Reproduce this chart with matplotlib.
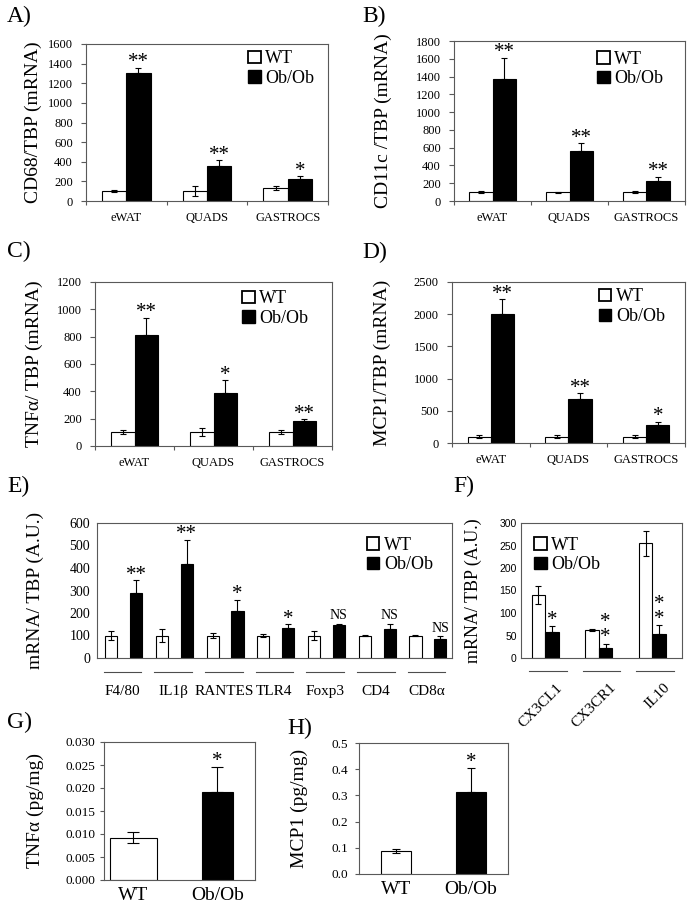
import matplotlib
matplotlib.use("Agg")
import numpy as np
import matplotlib.pyplot as plt
from matplotlib import transforms
from matplotlib.patches import Patch

plt.rcParams['font.family'] = ['Liberation Serif', 'DejaVu Serif']

W, H = 689, 907

# ---- data ----
tissues = ["eWAT", "QUADS", "GASTROCS"]

cd68_wt = [100, 100, 135]
cd68_wt_err = [10, 50, 20]
cd68_ob = [1300, 360, 225]
cd68_ob_err = [60, 55, 25]
cd68_sig = ["**", "**", "*"]

cd11c_wt = [100, 100, 100]
cd11c_wt_err = [15, 5, 10]
cd11c_ob = [1370, 560, 225]
cd11c_ob_err = [240, 90, 45]
cd11c_sig = ["**", "**", "**"]

tnf_wt = [100, 100, 100]
tnf_wt_err = [15, 30, 15]
tnf_ob = [810, 385, 180]
tnf_ob_err = [130, 95, 15]
tnf_sig = ["**", "*", "**"]

mcp1_wt = [100, 100, 100]
mcp1_wt_err = [30, 30, 30]
mcp1_ob = [2000, 680, 285]
mcp1_ob_err = [230, 90, 45]
mcp1_sig = ["**", "**", "*"]

genes_e = ["F4/80", "IL1β", "RANTES", "TLR4", "Foxp3", "CD4", "CD8α"]
e_wt = [100, 100, 100, 100, 100, 100, 100]
e_wt_err = [18, 30, 12, 8, 18, 2, 2]
e_ob = [290, 420, 210, 135, 145, 128, 83]
e_ob_err = [55, 105, 50, 15, 8, 25, 15]
e_sig = ["**", "**", "*", "*", "NS", "NS", "NS"]

genes_f = ["CX3CL1", "CX3CR1", "IL10"]
f_wt = [140, 62, 255]
f_wt_err = [20, 2, 28]
f_ob = [58, 22, 53]
f_ob_err = [13, 10, 20]
f_sig = ["*", "*\n*", "*\n*"]   # stacked stars

groups = ["WT", "Ob/Ob"]
tnf_prot = [0.0092, 0.0191]
tnf_prot_err = [0.0012, 0.0055]
mcp1_prot = [0.088, 0.313]
mcp1_prot_err = [0.008, 0.092]

fig = plt.figure(figsize=(W / 100, H / 100), dpi=100)


def add_ax(l, t, r, b):
    return fig.add_axes([l / W, 1 - b / H, (r - l) / W, (b - t) / H])


def style_frame(ax):
    for s in ax.spines.values():
        s.set_color('0.35')
        s.set_linewidth(0.8)
    ax.tick_params(colors='0.35', labelcolor='black', width=0.8)


def legend(ax, xy, fs=13):
    handles = [Patch(facecolor='white', edgecolor='black', linewidth=1.3),
               Patch(facecolor='black', edgecolor='black')]
    ax.legend(handles, ['WT', 'Ob/Ob'], loc='upper left', bbox_to_anchor=xy,
              frameon=False, fontsize=fs, handlelength=0.7, handleheight=0.7,
              handletextpad=0.25, labelspacing=0.15, borderaxespad=0, borderpad=0)


def stars(ax, x, top, s, fs=15, dy=0.5):
    ax.annotate(s, xy=(x, top), xytext=(0, dy), textcoords='offset points',
                ha='center', va='baseline', fontsize=fs, linespacing=0.72)


def tissue_panel(box, wt, wt_err, ob, ob_err, sig, ymax, ystep, ylabel, lab_x, leg_xy):
    ax = add_ax(*box)
    x = np.arange(len(tissues))
    w = 0.3
    ax.bar(x - w / 2, wt, w, color='white', edgecolor='black', linewidth=0.8)
    ax.bar(x + w / 2, ob, w, color='black', edgecolor='black', linewidth=0.8)
    ax.errorbar(x - w / 2, wt, yerr=wt_err, fmt='none', ecolor='black',
                elinewidth=0.8, capsize=2.5, capthick=0.8)
    ax.errorbar(x + w / 2, ob, yerr=[np.zeros(len(ob)), ob_err], fmt='none',
                ecolor='black', elinewidth=0.8, capsize=2.5, capthick=0.8)
    for i in range(len(x)):
        stars(ax, x[i] + w / 2, ob[i] + ob_err[i], sig[i])
    ax.set_xlim(-0.5, len(x) - 0.5)
    ax.set_ylim(0, ymax)
    ax.set_yticks(np.arange(0, ymax + 1, ystep))
    ax.set_xticks(np.arange(-0.5, len(x), 1))
    ax.set_xticklabels([])
    ax.set_xticks(x, minor=True)
    ax.set_xticklabels(tissues, minor=True, fontsize=9)
    style_frame(ax)
    ax.tick_params(axis='x', which='minor', length=0, pad=8)
    ax.tick_params(axis='x', which='major', length=3)
    ax.tick_params(axis='y', length=3.5, labelsize=9, pad=6)
    ax.set_ylabel(ylabel, fontsize=14)
    ax.yaxis.set_label_coords(lab_x, 0.5)
    legend(ax, leg_xy)
    return ax


tissue_panel((86, 44, 328, 201), cd68_wt, cd68_wt_err, cd68_ob, cd68_ob_err, cd68_sig,
             1600, 200, "CD68/TBP (mRNA)", -0.18, (0.67, 0.96))
tissue_panel((454, 41, 685, 201), cd11c_wt, cd11c_wt_err, cd11c_ob, cd11c_ob_err, cd11c_sig,
             1800, 200, "CD11c /TBP (mRNA)", -0.27, (0.62, 0.94))
tissue_panel((95, 282, 332, 446), tnf_wt, tnf_wt_err, tnf_ob, tnf_ob_err, tnf_sig,
             1200, 200, "TNFα/ TBP (mRNA)", -0.22, (0.62, 0.95))
tissue_panel((452, 282, 685, 443), mcp1_wt, mcp1_wt_err, mcp1_ob, mcp1_ob_err, mcp1_sig,
             2500, 500, "MCP1/TBP (mRNA)", -0.26, (0.63, 0.96))

# ---- E ----
ax = add_ax(97, 523, 452, 658)
x = np.arange(len(genes_e))
w = 0.24
ax.bar(x - 0.22, e_wt, w, color='white', edgecolor='black', linewidth=0.8)
ax.bar(x + 0.27, e_ob, w, color='black', edgecolor='black', linewidth=0.8)
ax.errorbar(x - 0.22, e_wt, yerr=e_wt_err, fmt='none', ecolor='black',
            elinewidth=0.8, capsize=2.5, capthick=0.8)
ax.errorbar(x + 0.27, e_ob, yerr=[np.zeros(len(e_ob)), e_ob_err], fmt='none',
            ecolor='black', elinewidth=0.8, capsize=2.5, capthick=0.8)
for i in range(len(x)):
    if e_sig[i] == "NS":
        stars(ax, x[i] + 0.27, e_ob[i] + e_ob_err[i], "NS", fs=10, dy=3)
    else:
        stars(ax, x[i] + 0.27, e_ob[i] + e_ob_err[i], e_sig[i])
ax.set_xlim(-0.5, len(x) - 0.5)
ax.set_ylim(0, 600)
ax.set_yticks(np.arange(0, 601, 100))
ax.set_xticks([])
style_frame(ax)
ax.tick_params(axis='y', length=0, labelsize=10, pad=5)
ax.set_ylabel("mRNA/ TBP (A.U.)", fontsize=14)
ax.yaxis.set_label_coords(-0.15, 0.5)
legend(ax, (0.76, 0.9))
tr = transforms.blended_transform_factory(ax.transData, ax.transAxes)
for i, g in enumerate(genes_e):
    ax.plot([x[i] - 0.37, x[i] + 0.37], [-0.105, -0.105], color='0.3', lw=0.8,
            transform=tr, clip_on=False)
    ax.text(x[i], -0.245, g, transform=tr, ha='center', va='center', fontsize=11)

# ---- F ----
ax = add_ax(521, 523, 682, 658)
x = np.arange(len(genes_f))
w = 0.25
ax.bar(x - w / 2 - 0.05, f_wt, w, color='white', edgecolor='black', linewidth=0.8)
ax.bar(x + w / 2 - 0.05, f_ob, w, color='black', edgecolor='black', linewidth=0.8)
ax.errorbar(x - w / 2 - 0.05, f_wt, yerr=f_wt_err, fmt='none', ecolor='black',
            elinewidth=0.8, capsize=2.5, capthick=0.8)
ax.errorbar(x + w / 2 - 0.05, f_ob, yerr=[np.zeros(len(f_ob)), f_ob_err], fmt='none',
            ecolor='black', elinewidth=0.8, capsize=2.5, capthick=0.8)
for i in range(len(x)):
    stars(ax, x[i] + w / 2 - 0.05, f_ob[i] + f_ob_err[i], f_sig[i], dy=1)
ax.set_xlim(-0.5, len(x) - 0.5)
ax.set_ylim(0, 300)
ax.set_yticks(np.arange(0, 301, 50))
ax.set_yticklabels([str(v) for v in range(0, 301, 50)], family='Liberation Sans')
ax.set_xticks([])
style_frame(ax)
ax.tick_params(axis='y', length=0, labelsize=7.5, pad=3)
ax.set_ylabel("mRNA/ TBP (A.U.)", fontsize=13)
ax.yaxis.set_label_coords(-0.24, 0.5)
legend(ax, (0.08, 0.9))
tr = transforms.blended_transform_factory(ax.transData, ax.transAxes)
for i, g in enumerate(genes_f):
    ax.plot([x[i] - 0.35, x[i] + 0.35], [-0.096, -0.096], color='0.3', lw=0.8,
            transform=tr, clip_on=False)
    ax.text(x[i] + 0.15, -0.17, g, transform=tr, ha='right', va='top', fontsize=11,
            rotation=45, rotation_mode='anchor')

# ---- G ----
ax = add_ax(104, 742, 255, 880)
x = np.arange(2)
widths = [0.56, 0.37]
ax.bar(x, tnf_prot, widths, color=['white', 'black'], edgecolor='black', linewidth=0.8)
ax.errorbar(x[:1], tnf_prot[:1], yerr=tnf_prot_err[:1], fmt='none', ecolor='black',
            elinewidth=0.8, capsize=4, capthick=0.8)
ax.errorbar(x[1:], tnf_prot[1:], yerr=[[0], tnf_prot_err[1:]], fmt='none', ecolor='black',
            elinewidth=0.8, capsize=4, capthick=0.8)
stars(ax, x[1], tnf_prot[1] + tnf_prot_err[1], "*")
ax.set_xlim(-0.35, 1.45)
ax.set_ylim(0, 0.030)
ax.set_yticks(np.arange(0, 0.0301, 0.005))
ax.yaxis.set_major_formatter(matplotlib.ticker.FormatStrFormatter('%.3f'))
ax.set_xticks(x)
ax.set_xticklabels(groups, fontsize=14)
style_frame(ax)
ax.tick_params(axis='x', length=0, pad=5)
ax.tick_params(axis='y', length=3, labelsize=9.5, pad=3)
ax.set_ylabel("TNFα (pg/mg)", fontsize=14)
ax.yaxis.set_label_coords(-0.40, 0.5)

# ---- H ----
ax = add_ax(359, 743, 508, 874)
ax.bar(x, mcp1_prot, 0.4, color=['white', 'black'], edgecolor='black', linewidth=0.8)
ax.errorbar(x[:1], mcp1_prot[:1], yerr=mcp1_prot_err[:1], fmt='none', ecolor='black',
            elinewidth=0.8, capsize=3, capthick=0.8)
ax.errorbar(x[1:], mcp1_prot[1:], yerr=[[0], mcp1_prot_err[1:]], fmt='none', ecolor='black',
            elinewidth=0.8, capsize=3, capthick=0.8)
stars(ax, x[1], mcp1_prot[1] + mcp1_prot_err[1], "*")
ax.set_xlim(-0.5, 1.5)
ax.set_ylim(0, 0.5)
ax.set_yticks(np.arange(0, 0.51, 0.1))
ax.yaxis.set_major_formatter(matplotlib.ticker.FormatStrFormatter('%.1f'))
ax.set_xticks(x)
ax.set_xticklabels(groups, fontsize=14)
style_frame(ax)
ax.tick_params(axis='x', length=0, pad=5)
ax.tick_params(axis='y', length=3, labelsize=9.5, pad=5)
ax.set_ylabel("MCP1 (pg/mg)", fontsize=14)
ax.yaxis.set_label_coords(-0.34, 0.5)

# panel letters
for lab, px, py in [("A)", 7, 16), ("B)", 362, 16), ("C)", 7, 251), ("D)", 362, 252),
                    ("E)", 7, 486), ("F)", 453, 486), ("G)", 7, 722), ("H)", 287, 728)]:
    fig.text(px / W, 1 - py / H, lab, fontsize=17, va='center', ha='left')

fig.savefig("out.png", dpi=100)
